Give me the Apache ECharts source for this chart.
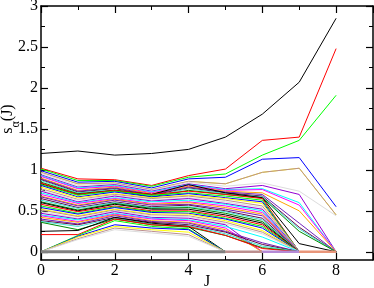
<!DOCTYPE html>
<html>
<head>
<meta charset="utf-8">
<script src="https://cdn.jsdelivr.net/npm/echarts@6/dist/echarts.min.js"></script>
<style>html,body{margin:0;padding:0;background:#fff}#c{width:374px;height:288px}</style>
</head>
<body>
<div id="c"></div>
<script>
// J values (x categories)
const J = [0, 1, 2, 3, 4, 5, 6, 7, 8];
const xTicks = [0, 2, 4, 6, 8];
const yTicks = [0, 0.5, 1, 1.5, 2, 2.5, 3];

// s_alpha(J) curves, one array per alpha, values at J = 0..8
const curves = [
  [1.20,1.23,1.18,1.20,1.25,1.40,1.68,2.07,2.85],
  [1.02,0.89,0.88,0.81,0.93,1.01,1.36,1.40,2.48],
  [1.01,0.87,0.87,0.80,0.91,0.95,1.18,1.36,1.91],
  [0.99,0.85,0.86,0.78,0.89,0.91,1.13,1.15,0.55],
  [0.97,0.83,0.84,0.76,0.86,0.83,0.97,1.02,0.45],
  [0.97,0.83,0.84,0.76,0.86,0.83,0.97,1.02,0.45],
  [0.96,0.81,0.83,0.75,0.85,0.80,0.84,0.74,0.44],
  [0.94,0.79,0.82,0.74,0.83,0.77,0.81,0.70,0],
  [0.93,0.78,0.81,0.73,0.82,0.76,0.77,0.60,0],
  [0.92,0.77,0.80,0.72,0.81,0.75,0.76,0.57,0],
  [0.90,0.75,0.79,0.71,0.80,0.74,0.72,0.50,0],
  [0.89,0.74,0.78,0.70,0.79,0.73,0.70,0.35,0],
  [0.88,0.73,0.77,0.69,0.78,0.72,0.68,0.30,0],
  [0.87,0.72,0.76,0.68,0.77,0.71,0.67,0.28,0],
  [0.85,0.71,0.75,0.67,0.75,0.70,0.66,0.25,0],
  [0.83,0.70,0.75,0.70,0.82,0.72,0.66,0.10,0],
  [0.84,0.70,0.75,0.70,0.74,0.70,0.65,0,0],
  [0.82,0.69,0.74,0.69,0.72,0.68,0.63,0,0],
  [0.81,0.67,0.73,0.67,0.71,0.66,0.61,0,0],
  [0.79,0.66,0.71,0.66,0.69,0.65,0.59,0,0],
  [0.77,0.64,0.70,0.65,0.68,0.63,0.56,0,0],
  [0.75,0.63,0.69,0.63,0.66,0.61,0.54,0,0],
  [0.74,0.61,0.68,0.62,0.65,0.59,0.52,0,0],
  [0.72,0.60,0.66,0.61,0.63,0.58,0.50,0,0],
  [0.70,0.59,0.65,0.59,0.61,0.56,0.48,0,0],
  [0.68,0.57,0.64,0.58,0.60,0.54,0.46,0,0],
  [0.67,0.56,0.63,0.57,0.58,0.52,0.44,0,0],
  [0.65,0.54,0.61,0.55,0.57,0.50,0.41,0,0],
  [0.63,0.53,0.60,0.54,0.55,0.49,0.39,0,0],
  [0.61,0.51,0.59,0.53,0.54,0.47,0.37,0,0],
  [0.60,0.50,0.58,0.52,0.52,0.45,0.35,0,0],
  [0.58,0.49,0.56,0.50,0.50,0.43,0.33,0,0],
  [0.56,0.47,0.55,0.49,0.49,0.41,0.31,0,0],
  [0.54,0.46,0.54,0.48,0.47,0.40,0.29,0,0],
  [0.52,0.44,0.52,0.46,0.46,0.38,0.26,0,0],
  [0.51,0.43,0.51,0.45,0.44,0.36,0.24,0,0],
  [0.49,0.41,0.50,0.44,0.43,0.34,0.22,0,0],
  [0.47,0.40,0.49,0.42,0.41,0.33,0,0,0],
  [0.45,0.39,0.47,0.41,0.39,0.31,0.18,0,0],
  [0.44,0.37,0.46,0.40,0.38,0.29,0,0,0],
  [0.42,0.36,0.45,0.38,0.36,0.27,0,0,0],
  [0.40,0.34,0.44,0.37,0.35,0.25,0.11,0,0],
  [0.38,0.33,0.42,0.36,0.33,0.24,0.09,0,0],
  [0.37,0.31,0.41,0.34,0.32,0.22,0.07,0,0],
  [0.36,0.27,0.40,0.33,0.30,0.20,0.05,0,0],
  [0.25,0.26,0.42,0.35,0.31,0,0,0,0],
  [0.21,0.21,0.40,0.33,0.31,0.20,0.04,0,0],
  [0,0.20,0.38,0.31,0.28,0,0,0,0],
  [0,0.19,0.33,0.29,0.27,0,0,0,0],
  [0,0.18,0.31,0.27,0.24,0,0,0,0],
  [0,0.16,0.29,0.25,0.21,0,0,0,0],
  [0,0.15,0.27,0.23,0.19,0,0,0,0]
];
// curves that are zero over a range of J (drawn last)
const zeroA = [0,0,0,0,0,0,null,null,null];
const zeroB = [null,null,null,null,null,0,0,null,null];
const zeroC = [null,null,null,null,null,null,0,0,null];
const zeroD = [null,null,null,null,null,null,null,0,0];

// Grace-like colour cycle (style only)
const palette = ['#000000','#ff0000','#00ff00','#0000ff','#ffff00','#bc8f8f','#dcdcdc',
  '#9400d3','#00ffff','#ff00ff','#ffa500','#7221bc','#670748','#40e0d0','#008b00'];

const FONT = "'Liberation Serif', serif";
const series = curves.map((c, i) => ({
  type: 'line', xAxisIndex: 0, yAxisIndex: 0,
  data: c.map((v, k) => [J[k], v]), symbol: 'none', silent: true,
  lineStyle: { color: palette[i % palette.length], width: 1 }
}));
const zeroStyles = [[zeroA,'#808080',3],[zeroB,'#bc8f8f',2.5],[zeroC,'#b58ad6',2.5],[zeroD,'#e9967a',2.5]];
zeroStyles.forEach(([arr, col, w]) => series.push({
  type: 'line', xAxisIndex: 0, yAxisIndex: 0,
  data: arr.map((v, k) => [J[k], v]), symbol: 'none', silent: true, connectNulls: false,
  lineStyle: { color: col, width: w }
}));

const tickStyle = { show: true, inside: true, length: 7, lineStyle: { color: '#000', width: 1.2 } };
const minorStyle = { show: true, splitNumber: 2, length: 4, lineStyle: { color: '#000', width: 1 } };
const frameLine = { show: true, onZero: false, lineStyle: { color: '#000', width: 1.5 } };
const labelStyle = { fontFamily: FONT, fontSize: 16, color: '#000', margin: 3 };

const chart = echarts.init(document.getElementById('c'), null, { renderer: 'canvas' });
chart.setOption({
  animation: false,
  backgroundColor: '#fff',
  grid: [
    { left: 41, right: 1, top: 6, bottom: 28, outerBoundsMode: 'none', containLabel: false },
    { left: 41, right: 1, top: 6, bottom: 36.2, outerBoundsMode: 'none', containLabel: false }
  ],
  xAxis: [
    { type: 'value', gridIndex: 0, min: 0, max: 9, interval: 2, position: 'bottom',
      name: 'J', nameLocation: 'middle', nameGap: 14, nameMoveOverlap: false,
      nameTextStyle: { fontFamily: FONT, fontSize: 16, color: '#000', verticalAlign: 'top' },
      axisLine: frameLine, splitLine: { show: false }, axisTick: tickStyle, minorTick: minorStyle,
      axisLabel: Object.assign({ formatter: v => xTicks.includes(v) ? String(v) : '' }, labelStyle) },
    { type: 'value', gridIndex: 0, min: 0, max: 9, interval: 2, position: 'top',
      axisLine: frameLine, splitLine: { show: false }, axisTick: tickStyle, minorTick: minorStyle,
      axisLabel: { show: false } },
    { type: 'value', gridIndex: 1, min: 0, max: 9, show: false }
  ],
  yAxis: [
    { type: 'value', gridIndex: 0, min: -0.1, max: 3, interval: 0.1, position: 'left',
      axisLine: frameLine, splitLine: { show: false }, axisTick: { show: false },
      axisLabel: { show: false } },
    { type: 'value', gridIndex: 0, min: -0.1, max: 3, interval: 0.1, position: 'right',
      axisLine: frameLine, splitLine: { show: false }, axisTick: { show: false },
      axisLabel: { show: false } },
    { type: 'value', gridIndex: 1, min: 0, max: 3, interval: 0.5, position: 'left',
      axisLine: { show: false }, splitLine: { show: false }, axisTick: tickStyle, minorTick: minorStyle,
      axisLabel: Object.assign({ formatter: v => yTicks.some(t => Math.abs(t - v) < 1e-9) ? String(v) : '' }, labelStyle) },
    { type: 'value', gridIndex: 1, min: 0, max: 3, interval: 0.5, position: 'right',
      axisLine: { show: false }, splitLine: { show: false }, axisTick: tickStyle, minorTick: minorStyle,
      axisLabel: { show: false } }
  ],
  graphic: [{
    type: 'text', x: 11, y: 119, rotation: Math.PI / 2,
    style: {
      text: '{s|s}{a|α}{s|(J)}', align: 'center', verticalAlign: 'middle',
      rich: {
        s: { fontFamily: FONT, fontSize: 16, color: '#000', lineHeight: 18, verticalAlign: 'top' },
        a: { fontFamily: FONT, fontSize: 12, color: '#000', lineHeight: 22, verticalAlign: 'bottom' }
      }
    }
  }],
  series: series
});
</script>
</body>
</html>
